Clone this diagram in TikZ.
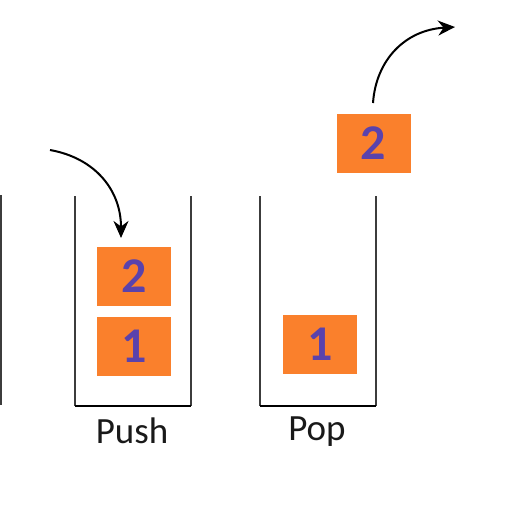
\documentclass[tikz,border=0pt]{standalone}
\usepackage{fontspec}
\setmainfont{Carlito}
\usetikzlibrary{arrows.meta}
\definecolor{boxorange}{RGB}{250,128,44}
\definecolor{digitblue}{RGB}{90,66,172}
\definecolor{wallgray}{RGB}{60,60,60}
\begin{document}
\begin{tikzpicture}[x=1pt,y=-1pt,
  item/.style={fill=boxorange, draw=none, minimum width=74pt, minimum height=59pt, inner sep=0pt,
    font=\fontsize{50}{50}\selectfont\bfseries, text=digitblue},
  wall/.style={draw=wallgray, line width=2pt},
  floor/.style={draw=black, line width=2pt},
  lbl/.style={font=\fontsize{37}{37}\selectfont, text=black!90},
  move/.style={draw=black, line width=2pt, -{Stealth[length=17pt,width=15pt]}}]
\useasboundingbox (0,0) rectangle (512,512);
% partial stack at left edge
\draw[wall] (1,195) -- (1,405);
% Push stack
\coordinate (pl) at (75,196);
\coordinate (pbl) at (75,406);
\coordinate (pbr) at (191,406);
\coordinate (pr) at (191,196);
\draw[wall] (pl) -- (pbl);
\draw[wall] (pr) -- (pbr);
\draw[floor] (pbl) -- (pbr);
\node[item] (b2) at (134,276.5) {2};
\node[item] (b1) at (134,346.5) {1};
\node[lbl] (push) at (132,431) {Push};
\coordinate (pushstart) at (50,150);
\coordinate (pushend) at (121,238);
\draw[move] (pushstart) .. controls (95,158) and (121,190) .. (pushend);
% Pop stack
\coordinate (ql) at (260,196);
\coordinate (qbl) at (260,406);
\coordinate (qbr) at (376,406);
\coordinate (qr) at (376,196);
\draw[wall] (ql) -- (qbl);
\draw[wall] (qr) -- (qbr);
\draw[floor] (qbl) -- (qbr);
\node[item] (q1) at (320,344.5) {1};
\node[item] (q2) at (373.5,143) {2};
\node[lbl] (pop) at (317,432) {Pop};
\coordinate (popstart) at (373,103);
\coordinate (popend) at (455,27);
\draw[move] (popstart) .. controls (376,60) and (405,30) .. (popend);
\end{tikzpicture}
\end{document}
